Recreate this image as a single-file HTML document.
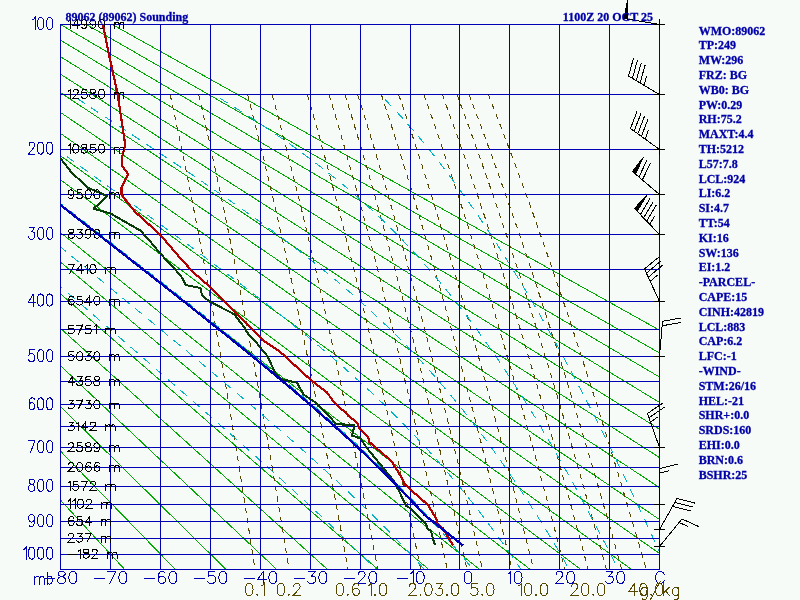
<!DOCTYPE html>
<html><head><meta charset="utf-8"><title>89062 Sounding</title><style>html,body{margin:0;padding:0;background:#F6FBF7;}svg{display:block;will-change:transform;}text{font-family:"Liberation Serif",serif;}</style></head><body>
<svg width="800" height="600" viewBox="0 0 800 600">
<defs><clipPath id="c"><rect x="60" y="24" width="600" height="546"/></clipPath></defs>
<g clip-path="url(#c)" stroke="#00AA00" stroke-width="1" fill="none" shape-rendering="crispEdges">
<path d="M-379.5 24.5L124.7 569.5"/>
<path d="M-353.6 24.5L175.4 569.5"/>
<path d="M-327.7 24.5L226.1 569.5"/>
<path d="M-301.8 24.5L276.8 569.5"/>
<path d="M-276 24.5L327.5 569.5"/>
<path d="M-250.1 24.5L378.2 569.5"/>
<path d="M-224.2 24.5L428.9 569.5"/>
<path d="M-198.3 24.5L479.6 569.5"/>
<path d="M-172.4 24.5L530.2 569.5"/>
<path d="M-146.6 24.5L580.9 569.5"/>
<path d="M-120.7 24.5L631.6 569.5"/>
<path d="M-94.8 24.5L682.3 569.5"/>
<path d="M-68.9 24.5L733 569.5"/>
<path d="M-43 24.5L783.7 569.5"/>
<path d="M-17.2 24.5L834.4 569.5"/>
<path d="M8.7 24.5L885.1 569.5"/>
<path d="M34.6 24.5L935.8 569.5"/>
<path d="M60.5 24.5L986.5 569.5"/>
<path d="M86.4 24.5L1037.2 569.5"/>
<path d="M112.2 24.5L1087.9 569.5"/>
</g>
<g clip-path="url(#c)" stroke="#564800" stroke-width="1" fill="none" stroke-dasharray="5.5 5" shape-rendering="crispEdges">
<path d="M170.1 94.4L172.3 104.4L174.4 114.4L176.5 124.4L178.7 134.4L180.7 144.4L182.8 154.4L184.9 164.4L186.9 174.4L188.9 184.4L190.9 194.4L192.8 204.4L194.8 214.4L196.7 224.4L198.6 234.4L200.5 244.4L202.4 254.4L204.3 264.4L206.1 274.4L208 284.4L209.8 294.4L211.6 304.4L213.4 314.4L215.2 324.4L216.9 334.4L218.7 344.4L220.4 354.4L222.1 364.4L223.8 374.4L225.5 384.4L227.2 394.4L228.9 404.4L230.6 414.4L232.2 424.4L233.8 434.4L235.5 444.4L237.1 454.4L238.7 464.4L240.3 474.4L241.9 484.4L243.4 494.4L245 504.4L246.5 514.4L248.1 524.4L249.6 534.4L251.1 544.4L252.7 554.4L254.2 564.4L254.9 569.5"/>
<path d="M198.6 94.4L200.9 104.4L203.2 114.4L205.5 124.4L207.7 134.4L209.9 144.4L212.1 154.4L214.3 164.4L216.5 174.4L218.6 184.4L220.7 194.4L222.8 204.4L224.9 214.4L227 224.4L229 234.4L231 244.4L233 254.4L235 264.4L237 274.4L238.9 284.4L240.9 294.4L242.8 304.4L244.7 314.4L246.6 324.4L248.5 334.4L250.3 344.4L252.2 354.4L254 364.4L255.8 374.4L257.7 384.4L259.4 394.4L261.2 404.4L263 414.4L264.8 424.4L266.5 434.4L268.2 444.4L270 454.4L271.7 464.4L273.4 474.4L275.1 484.4L276.7 494.4L278.4 504.4L280.1 514.4L281.7 524.4L283.4 534.4L285 544.4L286.6 554.4L288.2 564.4L289 569.5"/>
<path d="M247.6 94.4L250.2 104.4L252.7 114.4L255.2 124.4L257.7 134.4L260.1 144.4L262.6 154.4L265 164.4L267.4 174.4L269.7 184.4L272.1 194.4L274.4 204.4L276.7 214.4L279 224.4L281.2 234.4L283.5 244.4L285.7 254.4L287.9 264.4L290.1 274.4L292.3 284.4L294.4 294.4L296.5 304.4L298.7 314.4L300.8 324.4L302.9 334.4L304.9 344.4L307 354.4L309 364.4L311.1 374.4L313.1 384.4L315.1 394.4L317 404.4L319 414.4L321 424.4L322.9 434.4L324.8 444.4L326.8 454.4L328.7 464.4L330.6 474.4L332.4 484.4L334.3 494.4L336.2 504.4L338 514.4L339.9 524.4L341.7 534.4L343.5 544.4L345.3 554.4L347.1 564.4L348 569.5"/>
<path d="M272.1 94.4L274.8 104.4L277.5 114.4L280.1 124.4L282.7 134.4L285.3 144.4L287.8 154.4L290.4 164.4L292.9 174.4L295.4 184.4L297.8 194.4L300.3 204.4L302.7 214.4L305.1 224.4L307.4 234.4L309.8 244.4L312.1 254.4L314.5 264.4L316.8 274.4L319 284.4L321.3 294.4L323.5 304.4L325.8 314.4L328 324.4L330.2 334.4L332.4 344.4L334.5 354.4L336.7 364.4L338.8 374.4L340.9 384.4L343 394.4L345.1 404.4L347.2 414.4L349.3 424.4L351.3 434.4L353.3 444.4L355.4 454.4L357.4 464.4L359.4 474.4L361.3 484.4L363.3 494.4L365.3 504.4L367.2 514.4L369.2 524.4L371.1 534.4L373 544.4L374.9 554.4L376.8 564.4L377.7 569.5"/>
<path d="M307.3 94.4L310.2 104.4L313.1 114.4L315.9 124.4L318.7 134.4L321.4 144.4L324.2 154.4L326.9 164.4L329.5 174.4L332.2 184.4L334.8 194.4L337.5 204.4L340 214.4L342.6 224.4L345.2 234.4L347.7 244.4L350.2 254.4L352.7 264.4L355.1 274.4L357.6 284.4L360 294.4L362.4 304.4L364.8 314.4L367.2 324.4L369.6 334.4L371.9 344.4L374.2 354.4L376.5 364.4L378.8 374.4L381.1 384.4L383.4 394.4L385.6 404.4L387.8 414.4L390 424.4L392.2 434.4L394.4 444.4L396.6 454.4L398.8 464.4L400.9 474.4L403 484.4L405.2 494.4L407.3 504.4L409.4 514.4L411.5 524.4L413.5 534.4L415.6 544.4L417.6 554.4L419.7 564.4L420.7 569.5"/>
<path d="M329 94.4L332 104.4L335 114.4L337.9 124.4L340.8 134.4L343.7 144.4L346.5 154.4L349.4 164.4L352.2 174.4L354.9 184.4L357.7 194.4L360.4 204.4L363.1 214.4L365.8 224.4L368.4 234.4L371.1 244.4L373.7 254.4L376.3 264.4L378.9 274.4L381.4 284.4L383.9 294.4L386.5 304.4L389 314.4L391.4 324.4L393.9 334.4L396.3 344.4L398.8 354.4L401.2 364.4L403.6 374.4L405.9 384.4L408.3 394.4L410.6 404.4L413 414.4L415.3 424.4L417.6 434.4L419.9 444.4L422.1 454.4L424.4 464.4L426.6 474.4L428.9 484.4L431.1 494.4L433.3 504.4L435.5 514.4L437.7 524.4L439.8 534.4L442 544.4L444.1 554.4L446.2 564.4L447.3 569.5"/>
<path d="M345 94.4L348 104.4L351.1 114.4L354.1 124.4L357.1 134.4L360.1 144.4L363 154.4L365.9 164.4L368.8 174.4L371.6 184.4L374.5 194.4L377.3 204.4L380 214.4L382.8 224.4L385.5 234.4L388.3 244.4L391 254.4L393.6 264.4L396.3 274.4L398.9 284.4L401.5 294.4L404.1 304.4L406.7 314.4L409.2 324.4L411.8 334.4L414.3 344.4L416.8 354.4L419.3 364.4L421.8 374.4L424.2 384.4L426.6 394.4L429.1 404.4L431.5 414.4L433.9 424.4L436.2 434.4L438.6 444.4L440.9 454.4L443.3 464.4L445.6 474.4L447.9 484.4L450.2 494.4L452.4 504.4L454.7 514.4L456.9 524.4L459.2 534.4L461.4 544.4L463.6 554.4L465.8 564.4L466.9 569.5"/>
<path d="M357.6 94.4L360.8 104.4L363.9 114.4L367 124.4L370 134.4L373.1 144.4L376.1 154.4L379 164.4L382 174.4L384.9 184.4L387.8 194.4L390.7 204.4L393.5 214.4L396.3 224.4L399.1 234.4L401.9 244.4L404.7 254.4L407.4 264.4L410.1 274.4L412.8 284.4L415.5 294.4L418.2 304.4L420.8 314.4L423.4 324.4L426 334.4L428.6 344.4L431.2 354.4L433.7 364.4L436.2 374.4L438.8 384.4L441.2 394.4L443.7 404.4L446.2 414.4L448.6 424.4L451.1 434.4L453.5 444.4L455.9 454.4L458.3 464.4L460.6 474.4L463 484.4L465.4 494.4L467.7 504.4L470 514.4L472.3 524.4L474.6 534.4L476.9 544.4L479.2 554.4L481.4 564.4L482.6 569.5"/>
<path d="M381.3 94.4L384.6 104.4L387.8 114.4L391 124.4L394.2 134.4L397.4 144.4L400.5 154.4L403.6 164.4L406.7 174.4L409.8 184.4L412.8 194.4L415.8 204.4L418.8 214.4L421.7 224.4L424.6 234.4L427.5 244.4L430.4 254.4L433.3 264.4L436.1 274.4L438.9 284.4L441.7 294.4L444.5 304.4L447.3 314.4L450 324.4L452.7 334.4L455.4 344.4L458.1 354.4L460.8 364.4L463.4 374.4L466 384.4L468.7 394.4L471.2 404.4L473.8 414.4L476.4 424.4L478.9 434.4L481.5 444.4L484 454.4L486.5 464.4L489 474.4L491.4 484.4L493.9 494.4L496.3 504.4L498.8 514.4L501.2 524.4L503.6 534.4L506 544.4L508.3 554.4L510.7 564.4L511.9 569.5"/>
<path d="M398.6 94.4L402 104.4L405.4 114.4L408.7 124.4L412 134.4L415.2 144.4L418.5 154.4L421.7 164.4L424.8 174.4L428 184.4L431.1 194.4L434.2 204.4L437.3 214.4L440.3 224.4L443.3 234.4L446.3 244.4L449.3 254.4L452.3 264.4L455.2 274.4L458.1 284.4L461 294.4L463.9 304.4L466.7 314.4L469.5 324.4L472.3 334.4L475.1 344.4L477.9 354.4L480.6 364.4L483.4 374.4L486.1 384.4L488.8 394.4L491.5 404.4L494.1 414.4L496.8 424.4L499.4 434.4L502 444.4L504.6 454.4L507.2 464.4L509.8 474.4L512.3 484.4L514.9 494.4L517.4 504.4L519.9 514.4L522.4 524.4L524.9 534.4L527.4 544.4L529.8 554.4L532.3 564.4L533.5 569.5"/>
<path d="M423.9 94.4L427.4 104.4L430.9 114.4L434.4 124.4L437.8 134.4L441.2 144.4L444.6 154.4L447.9 164.4L451.2 174.4L454.5 184.4L457.8 194.4L461 204.4L464.2 214.4L467.4 224.4L470.6 234.4L473.7 244.4L476.8 254.4L479.9 264.4L483 274.4L486 284.4L489 294.4L492 304.4L495 314.4L498 324.4L500.9 334.4L503.8 344.4L506.7 354.4L509.6 364.4L512.5 374.4L515.3 384.4L518.1 394.4L521 404.4L523.7 414.4L526.5 424.4L529.3 434.4L532 444.4L534.7 454.4L537.5 464.4L540.1 474.4L542.8 484.4L545.5 494.4L548.1 504.4L550.8 514.4L553.4 524.4L556 534.4L558.6 544.4L561.2 554.4L563.7 564.4L565 569.5"/>
<path d="M442.3 94.4L445.9 104.4L449.5 114.4L453.1 124.4L456.7 134.4L460.2 144.4L463.7 154.4L467.1 164.4L470.5 174.4L473.9 184.4L477.3 194.4L480.6 204.4L484 214.4L487.2 224.4L490.5 234.4L493.7 244.4L497 254.4L500.1 264.4L503.3 274.4L506.5 284.4L509.6 294.4L512.7 304.4L515.8 314.4L518.8 324.4L521.8 334.4L524.9 344.4L527.9 354.4L530.8 364.4L533.8 374.4L536.7 384.4L539.7 394.4L542.6 404.4L545.4 414.4L548.3 424.4L551.2 434.4L554 444.4L556.8 454.4L559.6 464.4L562.4 474.4L565.2 484.4L567.9 494.4L570.7 504.4L573.4 514.4L576.1 524.4L578.8 534.4L581.5 544.4L584.2 554.4L586.8 564.4L588.2 569.5"/>
<path d="M456.9 94.4L460.6 104.4L464.3 114.4L468 124.4L471.6 134.4L475.2 144.4L478.8 154.4L482.3 164.4L485.8 174.4L489.3 184.4L492.7 194.4L496.2 204.4L499.6 214.4L502.9 224.4L506.3 234.4L509.6 244.4L512.9 254.4L516.2 264.4L519.4 274.4L522.6 284.4L525.8 294.4L529 304.4L532.2 314.4L535.3 324.4L538.4 334.4L541.5 344.4L544.6 354.4L547.7 364.4L550.7 374.4L553.7 384.4L556.7 394.4L559.7 404.4L562.7 414.4L565.6 424.4L568.5 434.4L571.4 444.4L574.3 454.4L577.2 464.4L580.1 474.4L582.9 484.4L585.7 494.4L588.6 504.4L591.4 514.4L594.1 524.4L596.9 534.4L599.7 544.4L602.4 554.4L605.1 564.4L606.5 569.5"/>
<path d="M468.9 94.4L472.7 104.4L476.5 114.4L480.3 124.4L484 134.4L487.6 144.4L491.3 154.4L494.9 164.4L498.5 174.4L502 184.4L505.5 194.4L509 204.4L512.5 214.4L516 224.4L519.4 234.4L522.8 244.4L526.1 254.4L529.5 264.4L532.8 274.4L536.1 284.4L539.3 294.4L542.6 304.4L545.8 314.4L549 324.4L552.2 334.4L555.4 344.4L558.5 354.4L561.6 364.4L564.7 374.4L567.8 384.4L570.9 394.4L573.9 404.4L576.9 414.4L580 424.4L582.9 434.4L585.9 444.4L588.9 454.4L591.8 464.4L594.7 474.4L597.7 484.4L600.5 494.4L603.4 504.4L606.3 514.4L609.1 524.4L612 534.4L614.8 544.4L617.6 554.4L620.4 564.4L621.8 569.5"/>
<path d="M488.3 94.4L492.2 104.4L496.1 114.4L500 124.4L503.8 134.4L507.6 144.4L511.3 154.4L515.1 164.4L518.8 174.4L522.4 184.4L526.1 194.4L529.7 204.4L533.3 214.4L536.8 224.4L540.3 234.4L543.8 244.4L547.3 254.4L550.8 264.4L554.2 274.4L557.6 284.4L561 294.4L564.3 304.4L567.7 314.4L571 324.4L574.3 334.4L577.5 344.4L580.8 354.4L584 364.4L587.2 374.4L590.4 384.4L593.6 394.4L596.7 404.4L599.9 414.4L603 424.4L606.1 434.4L609.2 444.4L612.2 454.4L615.3 464.4L618.3 474.4L621.3 484.4L624.3 494.4L627.3 504.4L630.2 514.4L633.2 524.4L636.1 534.4L639 544.4L641.9 554.4L644.8 564.4L646.3 569.5"/>
</g>
<g clip-path="url(#c)" stroke="#00B4C4" stroke-width="1" fill="none" stroke-dasharray="9 7.5" stroke-dashoffset="9" shape-rendering="crispEdges">
<path d="M-162.6 94.4L-148.7 106.3L-135.5 117.6L-122.9 128.5L-110.7 139L-99 149.1L-87.7 158.9L-76.8 168.3L-66.2 177.4L-55.9 186.2L-46 194.8L-36.3 203.1L-26.9 211.2L-17.7 219.1L-8.8 226.8L-0.1 234.3L8.4 241.6L16.7 248.8L24.9 255.8L32.8 262.7L40.6 269.4L48.2 276L55.7 282.4L63.1 288.7L70.3 295L77.3 301L84.3 307L91.1 312.9L97.8 318.7L104.4 324.4L110.9 330L117.3 335.5L123.5 340.9L129.7 346.3L135.8 351.5L141.8 356.7L147.7 361.8L153.5 366.9L159.3 371.9L164.9 376.8L170.5 381.6L176 386.4L181.4 391.1L186.8 395.8L192.1 400.4L197.3 404.9L202.4 409.4L207.5 413.9L212.5 418.3L217.5 422.6L222.3 426.9L227.2 431.2L231.9 435.4L236.6 439.5L241.3 443.6L245.9 447.7L250.4 451.7L254.9 455.7L259.3 459.7L263.7 463.6L268 467.5L272.3 471.3L276.5 475.1L280.6 478.9L284.7 482.6L288.8 486.3L292.8 490L296.8 493.6L300.7 497.2L304.6 500.8L308.4 504.3L312.2 507.8L315.9 511.3L319.6 514.8L323.2 518.2L326.8 521.6L330.4 525L333.9 528.3L337.3 531.6L340.8 534.9L344.2 538.2L347.5 541.4L350.8 544.7L354.1 547.9L357.3 551L360.5 554.2L363.7 557.3L366.8 560.4L369.8 563.5L372.9 566.6L375.9 569.6"/>
<path d="M-125.5 94.4L-111 106.3L-97.2 117.6L-83.9 128.5L-71.1 139L-58.8 149.1L-46.9 158.9L-35.5 168.3L-24.3 177.4L-13.6 186.2L-3.1 194.8L7 203.1L16.9 211.2L26.5 219.1L35.9 226.8L45 234.3L54 241.6L62.7 248.8L71.2 255.8L79.6 262.7L87.7 269.4L95.7 276L103.6 282.4L111.3 288.7L118.8 295L126.2 301L133.5 307L140.6 312.9L147.6 318.7L154.5 324.4L161.3 330L167.9 335.5L174.5 340.9L180.9 346.3L187.3 351.5L193.5 356.7L199.6 361.8L205.7 366.9L211.6 371.9L217.5 376.8L223.2 381.6L228.9 386.4L234.5 391.1L240 395.8L245.4 400.4L250.8 404.9L256 409.4L261.2 413.9L266.3 418.3L271.4 422.6L276.3 426.9L281.2 431.2L286 435.4L290.7 439.5L295.4 443.6L300 447.7L304.5 451.7L309 455.7L313.4 459.7L317.7 463.6L322 467.5L326.2 471.3L330.4 475.1L334.4 478.9L338.5 482.6L342.4 486.3L346.3 490L350.2 493.6L353.9 497.2L357.7 500.8L361.3 504.3L365 507.8L368.5 511.3L372.1 514.8L375.5 518.2L378.9 521.6L382.3 525L385.6 528.3L388.9 531.6L392.1 534.9L395.3 538.2L398.4 541.4L401.5 544.7L404.5 547.9L407.5 551L410.5 554.2L413.4 557.3L416.3 560.4L419.1 563.5L421.9 566.6L424.7 569.6"/>
<path d="M-80.2 94.4L-64.8 106.3L-50.2 117.6L-36.1 128.5L-22.6 139L-9.6 149.1L3 158.9L15.1 168.3L26.9 177.4L38.3 186.2L49.3 194.8L60 203.1L70.5 211.2L80.6 219.1L90.6 226.8L100.2 234.3L109.6 241.6L118.8 248.8L127.8 255.8L136.6 262.7L145.2 269.4L153.7 276L161.9 282.4L170 288.7L177.9 295L185.6 301L193.2 307L200.7 312.9L208 318.7L215.1 324.4L222.1 330L229 335.5L235.8 340.9L242.4 346.3L248.9 351.5L255.3 356.7L261.5 361.8L267.7 366.9L273.7 371.9L279.6 376.8L285.4 381.6L291.1 386.4L296.7 391.1L302.2 395.8L307.5 400.4L312.8 404.9L318 409.4L323 413.9L328 418.3L332.9 422.6L337.7 426.9L342.4 431.2L347 435.4L351.5 439.5L356 443.6L360.3 447.7L364.6 451.7L368.8 455.7L372.9 459.7L376.9 463.6L380.9 467.5L384.8 471.3L388.6 475.1L392.3 478.9L396 482.6L399.6 486.3L403.2 490L406.7 493.6L410.1 497.2L413.5 500.8L416.8 504.3L420.1 507.8L423.3 511.3L426.4 514.8L429.5 518.2L432.6 521.6L435.6 525L438.5 528.3L441.4 531.6L444.3 534.9L447.1 538.2L449.8 541.4L452.6 544.7L455.2 547.9L457.9 551L460.5 554.2L463.1 557.3L465.6 560.4L468.1 563.5L470.6 566.6L473 569.6"/>
<path d="M-19.2 94.4L-2.8 106.3L13 117.6L28.1 128.5L42.6 139L56.5 149.1L70 158.9L83 168.3L95.6 177.4L107.8 186.2L119.6 194.8L131.1 203.1L142.2 211.2L153.1 219.1L163.6 226.8L173.9 234.3L183.8 241.6L193.5 248.8L203 255.8L212.2 262.7L221.2 269.4L230 276L238.5 282.4L246.8 288.7L254.9 295L262.8 301L270.5 307L278 312.9L285.3 318.7L292.4 324.4L299.3 330L306.1 335.5L312.7 340.9L319.1 346.3L325.3 351.5L331.4 356.7L337.3 361.8L343.1 366.9L348.7 371.9L354.2 376.8L359.5 381.6L364.7 386.4L369.8 391.1L374.8 395.8L379.6 400.4L384.3 404.9L388.9 409.4L393.4 413.9L397.7 418.3L402 422.6L406.2 426.9L410.3 431.2L414.3 435.4L418.2 439.5L422 443.6L425.7 447.7L429.4 451.7L433 455.7L436.5 459.7L439.9 463.6L443.3 467.5L446.6 471.3L449.8 475.1L453 478.9L456.1 482.6L459.1 486.3L462.1 490L465.1 493.6L468 497.2L470.8 500.8L473.6 504.3L476.3 507.8L479 511.3L481.7 514.8L484.3 518.2L486.9 521.6L489.4 525L491.9 528.3L494.3 531.6L496.8 534.9L499.1 538.2L501.5 541.4L503.8 544.7L506 547.9L508.3 551L510.5 554.2L512.7 557.3L514.8 560.4L517 563.5L519 566.6L521.1 569.6"/>
<path d="M70.9 94.4L88.9 106.3L106.2 117.6L122.8 128.5L138.6 139L153.8 149.1L168.4 158.9L182.4 168.3L195.9 177.4L208.9 186.2L221.4 194.8L233.4 203.1L245 211.2L256.1 219.1L266.8 226.8L277 234.3L286.9 241.6L296.3 248.8L305.4 255.8L314.2 262.7L322.6 269.4L330.6 276L338.4 282.4L345.8 288.7L353 295L359.9 301L366.5 307L372.9 312.9L379.1 318.7L385.1 324.4L390.8 330L396.4 335.5L401.7 340.9L407 346.3L412 351.5L416.9 356.7L421.6 361.8L426.2 366.9L430.7 371.9L435 376.8L439.2 381.6L443.3 386.4L447.3 391.1L451.2 395.8L455 400.4L458.7 404.9L462.3 409.4L465.8 413.9L469.3 418.3L472.6 422.6L475.9 426.9L479.1 431.2L482.3 435.4L485.4 439.5L488.4 443.6L491.4 447.7L494.3 451.7L497.1 455.7L499.9 459.7L502.6 463.6L505.3 467.5L508 471.3L510.6 475.1L513.1 478.9L515.6 482.6L518.1 486.3L520.5 490L522.9 493.6L525.3 497.2L527.6 500.8L529.9 504.3L532.1 507.8L534.3 511.3L536.5 514.8L538.7 518.2L540.8 521.6L542.9 525L544.9 528.3L547 531.6L549 534.9L551 538.2L552.9 541.4L554.9 544.7L556.8 547.9L558.6 551L560.5 554.2L562.3 557.3L564.2 560.4L565.9 563.5L567.7 566.6L569.5 569.6"/>
<path d="M213.7 94.4L232.9 106.3L250.8 117.6L267.3 128.5L282.7 139L297 149.1L310.2 158.9L322.6 168.3L334.1 177.4L344.8 186.2L354.8 194.8L364.3 203.1L373.1 211.2L381.5 219.1L389.4 226.8L396.8 234.3L403.9 241.6L410.7 248.8L417.1 255.8L423.2 262.7L429.1 269.4L434.8 276L440.2 282.4L445.4 288.7L450.4 295L455.2 301L459.9 307L464.4 312.9L468.8 318.7L473 324.4L477.1 330L481.1 335.5L485 340.9L488.7 346.3L492.4 351.5L496 356.7L499.5 361.8L502.9 366.9L506.2 371.9L509.4 376.8L512.6 381.6L515.7 386.4L518.7 391.1L521.6 395.8L524.5 400.4L527.4 404.9L530.2 409.4L532.9 413.9L535.6 418.3L538.2 422.6L540.8 426.9L543.3 431.2L545.8 435.4L548.2 439.5L550.7 443.6L553 447.7L555.3 451.7L557.6 455.7L559.9 459.7L562.1 463.6L564.3 467.5L566.5 471.3L568.6 475.1L570.7 478.9L572.7 482.6L574.8 486.3L576.8 490L578.8 493.6L580.7 497.2L582.6 500.8L584.5 504.3L586.4 507.8L588.3 511.3L590.1 514.8L591.9 518.2L593.7 521.6L595.5 525L597.2 528.3L598.9 531.6L600.6 534.9L602.3 538.2L604 541.4L605.7 544.7L607.3 547.9L608.9 551L610.5 554.2L612.1 557.3L613.6 560.4L615.2 563.5L616.7 566.6L618.2 569.6"/>
<path d="M380 94.4L391.5 106.3L402 117.6L411.6 128.5L420.5 139L428.8 149.1L436.6 158.9L443.9 168.3L450.8 177.4L457.3 186.2L463.5 194.8L469.4 203.1L475 211.2L480.4 219.1L485.6 226.8L490.5 234.3L495.3 241.6L499.9 248.8L504.4 255.8L508.6 262.7L512.8 269.4L516.8 276L520.7 282.4L524.5 288.7L528.2 295L531.8 301L535.3 307L538.7 312.9L542 318.7L545.3 324.4L548.4 330L551.5 335.5L554.5 340.9L557.5 346.3L560.4 351.5L563.2 356.7L566 361.8L568.7 366.9L571.3 371.9L574 376.8L576.5 381.6L579 386.4L581.5 391.1L583.9 395.8L586.3 400.4L588.7 404.9L591 409.4L593.3 413.9L595.5 418.3L597.7 422.6L599.9 426.9L602 431.2L604.1 435.4L606.2 439.5L608.2 443.6L610.2 447.7L612.2 451.7L614.2 455.7L616.1 459.7L618 463.6L619.9 467.5L621.7 471.3L623.6 475.1L625.4 478.9L627.2 482.6L629 486.3L630.7 490L632.4 493.6L634.1 497.2L635.8 500.8L637.5 504.3L639.1 507.8L640.8 511.3L642.4 514.8L644 518.2L645.6 521.6L647.1 525L648.7 528.3L650.2 531.6L651.7 534.9L653.2 538.2L654.7 541.4L656.2 544.7L657.6 547.9L659.1 551L660.5 554.2L661.9 557.3L663.3 560.4L664.7 563.5L666.1 566.6L667.5 569.6"/>
</g>
<g stroke="#0000B4" stroke-width="1" fill="none" shape-rendering="crispEdges">
<path d="M60.5 24V570M110.5 24V570M160.5 24V570M210.5 24V570M260.5 24V570M310.5 24V570M360.5 24V570M410.5 24V570M459.5 24V570M509.5 24V570M559.5 24V570M609.5 24V570M659.5 24V570M60 24.5H660M60 94.5H660M60 149.5H660M60 194.5H660M60 234.5H660M60 269.5H660M60 301.5H660M60 329.5H660M60 356.5H660M60 381.5H660M60 404.5H660M60 426.5H660M60 447.5H660M60 467.5H660M60 486.5H660M60 504.5H660M60 521.5H660M60 538.5H660M60 554.5H660M60 569.5H660"/>
</g>
<g shape-rendering="crispEdges">
<path d="M60.5 158.5L71.2 172L87.7 187.7L107.2 196L93.7 208.7L110.5 213.5L140.5 230.7L149.5 240.5L160 253.2L175.7 270L182.5 278.2L185.5 285L200.5 288L202 295.5L209.5 301.5L234.2 314.2L244 327L248.5 334.5L254.2 340L267.7 356.5L275.2 373L280.5 379L297 382.7L303.7 394.7L315 402.2L323 410L336.5 424.2L354.5 425L352.2 435.5L360.5 438.5L366.5 447.5L380 464L393.5 480.5L400 493L406 506L410 508L426 524L427.5 529L431 531L433 539L435 545" stroke="#0A3C0A" stroke-width="2.1" fill="none" stroke-linejoin="round" clip-path="url(#c)"/>
<path d="M103 24.5L108 50L117.7 94.5L124.5 140L125.2 145L122.2 157L122.2 166L128.2 174.2L121.5 187.7L121.5 194.5L125.5 200L135.2 212L160 234.5L178 255.5L193 272L209.5 286.5L235 312L253 330L262.5 340L280 351.7L310.5 379.7L327 392.5L334.5 403L342.5 410L357.5 423.5L359 428L368 437L369.5 442.2L392 461.7L395 467L401.7 477.5L404.7 484.2L411 490L428 505L437 520L437.5 524L443 528.5L453 545.5" stroke="#B00000" stroke-width="2.2" fill="none" stroke-linejoin="round" clip-path="url(#c)"/>
<path d="M463 545.5L424.8 515.1L424.5 514.8L421.3 511.3L418.1 507.8L414.9 504.3L411.5 500.8L408.1 497.2L404.7 493.6L401.2 490L397.6 486.3L394 482.6L390.3 478.9L386.5 475.1L382.7 471.3L378.8 467.5L374.8 463.6L370.7 459.7L366.6 455.7L362.4 451.7L358.1 447.7L353.8 443.6L349.3 439.5L344.8 435.4L340.1 431.2L335.4 426.9L330.6 422.6L325.7 418.3L320.8 413.9L315.7 409.4L310.5 404.9L305.2 400.4L299.8 395.8L294.4 391.1L288.8 386.4L283.1 381.6L277.3 376.8L271.4 371.9L265.3 366.9L259.2 361.8L252.9 356.7L246.6 351.5L240.1 346.3L233.4 340.9L226.7 335.5L219.8 330L212.8 324.4L205.6 318.7L198.3 312.9L190.9 307L183.3 301L175.6 295L167.7 288.7L159.6 282.4L151.4 276L143 269.4L134.4 262.7L125.6 255.8L116.7 248.8L107.5 241.6L98.1 234.3L88.4 226.8L78.5 219.1L68.4 211.2L58 203.1L47.3 194.8L36.2 186.2L24.9 177.4L13.1 168.3L1 158.9L-11.5 149.1L-24.5 139L-38 128.5L-52 117.6L-66.6 106.3L-81.9 94.4L-98 81.9L-114.9 68.8L-132.7 54.9L-151.7 40.2L-171.9 24.5" stroke="#0000B4" stroke-width="2.4" fill="none" stroke-linejoin="round" clip-path="url(#c)"/>
</g>
<g shape-rendering="crispEdges">
<path d="M32.8 19.8L33.7 19.2L35 17.5L35 29.5M40.2 17.5L38.9 18.1L38 19.8L37.6 22.6L37.6 24.4L38 27.2L38.9 28.9L40.2 29.5L41.2 29.5L42.5 28.9L43.4 27.2L43.9 24.4L43.9 22.6L43.4 19.8L42.5 18.1L41.2 17.5L40.2 17.5M49.2 17.5L47.9 18.1L47 19.8L46.6 22.6L46.6 24.4L47 27.2L47.9 28.9L49.2 29.5L50.2 29.5L51.5 28.9L52.4 27.2L52.9 24.4L52.9 22.6L52.4 19.8L51.5 18.1L50.2 17.5L49.2 17.5" stroke="#0000B4" stroke-width="1.0" fill="none" stroke-linecap="square"/>
<path d="M29 145L29 144.4L29.5 143.3L29.9 142.7L30.8 142.1L32.6 142.1L33.5 142.7L34 143.3L34.4 144.4L34.4 145.5L34 146.7L33.1 148.4L28.6 154.1L34.9 154.1M40.2 142.1L38.9 142.7L38 144.4L37.6 147.3L37.6 149L38 151.8L38.9 153.5L40.2 154.1L41.2 154.1L42.5 153.5L43.4 151.8L43.9 149L43.9 147.3L43.4 144.4L42.5 142.7L41.2 142.1L40.2 142.1M49.2 142.1L47.9 142.7L47 144.4L46.6 147.3L46.6 149L47 151.8L47.9 153.5L49.2 154.1L50.2 154.1L51.5 153.5L52.4 151.8L52.9 149L52.9 147.3L52.4 144.4L51.5 142.7L50.2 142.1L49.2 142.1" stroke="#0000B4" stroke-width="1.0" fill="none" stroke-linecap="square"/>
<path d="M29.5 227.3L34.4 227.3L31.7 231.9L33.1 231.9L34 232.5L34.4 233L34.9 234.7L34.9 235.9L34.4 237.6L33.5 238.7L32.2 239.3L30.8 239.3L29.5 238.7L29 238.2L28.6 237M40.2 227.3L38.9 227.9L38 229.6L37.6 232.5L37.6 234.2L38 237L38.9 238.7L40.2 239.3L41.2 239.3L42.5 238.7L43.4 237L43.9 234.2L43.9 232.5L43.4 229.6L42.5 227.9L41.2 227.3L40.2 227.3M49.2 227.3L47.9 227.9L47 229.6L46.6 232.5L46.6 234.2L47 237L47.9 238.7L49.2 239.3L50.2 239.3L51.5 238.7L52.4 237L52.9 234.2L52.9 232.5L52.4 229.6L51.5 227.9L50.2 227.3L49.2 227.3" stroke="#0000B4" stroke-width="1.0" fill="none" stroke-linecap="square"/>
<path d="M33.1 294.1L28.6 302L35.3 302M33.1 294.1L33.1 306M40.2 294.1L38.9 294.6L38 296.3L37.6 299.2L37.6 300.9L38 303.8L38.9 305.5L40.2 306L41.2 306L42.5 305.5L43.4 303.8L43.9 300.9L43.9 299.2L43.4 296.3L42.5 294.6L41.2 294.1L40.2 294.1M49.2 294.1L47.9 294.6L47 296.3L46.6 299.2L46.6 300.9L47 303.8L47.9 305.5L49.2 306L50.2 306L51.5 305.5L52.4 303.8L52.9 300.9L52.9 299.2L52.4 296.3L51.5 294.6L50.2 294.1L49.2 294.1" stroke="#0000B4" stroke-width="1.0" fill="none" stroke-linecap="square"/>
<path d="M34 349.7L29.5 349.7L29 354.9L29.5 354.3L30.8 353.7L32.2 353.7L33.5 354.3L34.4 355.4L34.9 357.2L34.9 358.3L34.4 360L33.5 361.1L32.2 361.7L30.8 361.7L29.5 361.1L29 360.6L28.6 359.4M40.2 349.7L38.9 350.3L38 352L37.6 354.9L37.6 356.6L38 359.4L38.9 361.1L40.2 361.7L41.2 361.7L42.5 361.1L43.4 359.4L43.9 356.6L43.9 354.9L43.4 352L42.5 350.3L41.2 349.7L40.2 349.7M49.2 349.7L47.9 350.3L47 352L46.6 354.9L46.6 356.6L47 359.4L47.9 361.1L49.2 361.7L50.2 361.7L51.5 361.1L52.4 359.4L52.9 356.6L52.9 354.9L52.4 352L51.5 350.3L50.2 349.7L49.2 349.7" stroke="#0000B4" stroke-width="1.0" fill="none" stroke-linecap="square"/>
<path d="M34.4 399.7L34 398.5L32.6 397.9L31.7 397.9L30.4 398.5L29.5 400.2L29 403.1L29 405.9L29.5 408.2L30.4 409.3L31.7 409.9L32.2 409.9L33.5 409.3L34.4 408.2L34.9 406.5L34.9 405.9L34.4 404.2L33.5 403.1L32.2 402.5L31.7 402.5L30.4 403.1L29.5 404.2L29 405.9M40.2 397.9L38.9 398.5L38 400.2L37.6 403.1L37.6 404.8L38 407.6L38.9 409.3L40.2 409.9L41.2 409.9L42.5 409.3L43.4 407.6L43.9 404.8L43.9 403.1L43.4 400.2L42.5 398.5L41.2 397.9L40.2 397.9M49.2 397.9L47.9 398.5L47 400.2L46.6 403.1L46.6 404.8L47 407.6L47.9 409.3L49.2 409.9L50.2 409.9L51.5 409.3L52.4 407.6L52.9 404.8L52.9 403.1L52.4 400.2L51.5 398.5L50.2 397.9L49.2 397.9" stroke="#0000B4" stroke-width="1.0" fill="none" stroke-linecap="square"/>
<path d="M34.9 440.7L30.4 452.7M28.6 440.7L34.9 440.7M40.2 440.7L38.9 441.3L38 443L37.6 445.8L37.6 447.6L38 450.4L38.9 452.1L40.2 452.7L41.2 452.7L42.5 452.1L43.4 450.4L43.9 447.6L43.9 445.8L43.4 443L42.5 441.3L41.2 440.7L40.2 440.7M49.2 440.7L47.9 441.3L47 443L46.6 445.8L46.6 447.6L47 450.4L47.9 452.1L49.2 452.7L50.2 452.7L51.5 452.1L52.4 450.4L52.9 447.6L52.9 445.8L52.4 443L51.5 441.3L50.2 440.7L49.2 440.7" stroke="#0000B4" stroke-width="1.0" fill="none" stroke-linecap="square"/>
<path d="M30.8 479.3L29.5 479.9L29 481L29 482.2L29.5 483.3L30.4 483.9L32.2 484.4L33.5 485L34.4 486.2L34.9 487.3L34.9 489L34.4 490.1L34 490.7L32.6 491.3L30.8 491.3L29.5 490.7L29 490.1L28.6 489L28.6 487.3L29 486.2L29.9 485L31.3 484.4L33.1 483.9L34 483.3L34.4 482.2L34.4 481L34 479.9L32.6 479.3L30.8 479.3M40.2 479.3L38.9 479.9L38 481.6L37.6 484.4L37.6 486.2L38 489L38.9 490.7L40.2 491.3L41.2 491.3L42.5 490.7L43.4 489L43.9 486.2L43.9 484.4L43.4 481.6L42.5 479.9L41.2 479.3L40.2 479.3M49.2 479.3L47.9 479.9L47 481.6L46.6 484.4L46.6 486.2L47 489L47.9 490.7L49.2 491.3L50.2 491.3L51.5 490.7L52.4 489L52.9 486.2L52.9 484.4L52.4 481.6L51.5 479.9L50.2 479.3L49.2 479.3" stroke="#0000B4" stroke-width="1.0" fill="none" stroke-linecap="square"/>
<path d="M34.4 518.6L34 520.3L33.1 521.4L31.7 522L31.3 522L29.9 521.4L29 520.3L28.6 518.6L28.6 518L29 516.3L29.9 515.2L31.3 514.6L31.7 514.6L33.1 515.2L34 516.3L34.4 518.6L34.4 521.4L34 524.3L33.1 526L31.7 526.6L30.8 526.6L29.5 526L29 524.9M40.2 514.6L38.9 515.2L38 516.9L37.6 519.7L37.6 521.4L38 524.3L38.9 526L40.2 526.6L41.2 526.6L42.5 526L43.4 524.3L43.9 521.4L43.9 519.7L43.4 516.9L42.5 515.2L41.2 514.6L40.2 514.6M49.2 514.6L47.9 515.2L47 516.9L46.6 519.7L46.6 521.4L47 524.3L47.9 526L49.2 526.6L50.2 526.6L51.5 526L52.4 524.3L52.9 521.4L52.9 519.7L52.4 516.9L51.5 515.2L50.2 514.6L49.2 514.6" stroke="#0000B4" stroke-width="1.0" fill="none" stroke-linecap="square"/>
<path d="M23.8 549.5L24.7 548.9L26 547.2L26 559.2M31.3 547.2L29.9 547.8L29 549.5L28.6 552.3L28.6 554L29 556.9L29.9 558.6L31.3 559.2L32.2 559.2L33.5 558.6L34.4 556.9L34.9 554L34.9 552.3L34.4 549.5L33.5 547.8L32.2 547.2L31.3 547.2M40.2 547.2L38.9 547.8L38 549.5L37.6 552.3L37.6 554L38 556.9L38.9 558.6L40.2 559.2L41.2 559.2L42.5 558.6L43.4 556.9L43.9 554L43.9 552.3L43.4 549.5L42.5 547.8L41.2 547.2L40.2 547.2M49.2 547.2L47.9 547.8L47 549.5L46.6 552.3L46.6 554L47 556.9L47.9 558.6L49.2 559.2L50.2 559.2L51.5 558.6L52.4 556.9L52.9 554L52.9 552.3L52.4 549.5L51.5 547.8L50.2 547.2L49.2 547.2" stroke="#0000B4" stroke-width="1.0" fill="none" stroke-linecap="square"/>
<path d="M68.2 21.3L69 20.9L70.3 19.6L70.3 28.4M77 19.6L72.7 25.5L79.2 25.5M77 19.6L77 28.4M86.9 22.5L86.5 23.8L85.6 24.6L84.3 25.1L83.9 25.1L82.6 24.6L81.8 23.8L81.3 22.5L81.3 22.1L81.8 20.9L82.6 20L83.9 19.6L84.3 19.6L85.6 20L86.5 20.9L86.9 22.5L86.9 24.6L86.5 26.7L85.6 28L84.3 28.4L83.5 28.4L82.2 28L81.8 27.1M95.5 22.5L95.1 23.8L94.2 24.6L92.9 25.1L92.5 25.1L91.2 24.6L90.4 23.8L89.9 22.5L89.9 22.1L90.4 20.9L91.2 20L92.5 19.6L92.9 19.6L94.2 20L95.1 20.9L95.5 22.5L95.5 24.6L95.1 26.7L94.2 28L92.9 28.4L92.1 28.4L90.8 28L90.4 27.1M101.1 19.6L99.8 20L99 21.3L98.5 23.4L98.5 24.6L99 26.7L99.8 28L101.1 28.4L102 28.4L103.3 28L104.1 26.7L104.6 24.6L104.6 23.4L104.1 21.3L103.3 20L102 19.6L101.1 19.6M114.4 22.5L114.4 28.4M114.4 24.2L115.7 22.9L116.6 22.5L117.9 22.5L118.7 22.9L119.2 24.2L119.2 28.4M119.2 24.2L120.5 22.9L121.3 22.5L122.6 22.5L123.5 22.9L123.9 24.2L123.9 28.4" stroke="#000000" stroke-width="1.0" fill="none" stroke-linecap="square"/>
<path d="M68.2 91.2L69 90.7L70.3 89.5L70.3 98.3M73.2 91.6L73.2 91.2L73.6 90.3L74 89.9L74.9 89.5L76.6 89.5L77.5 89.9L77.9 90.3L78.3 91.2L78.3 92L77.9 92.8L77 94.1L72.7 98.3L78.8 98.3M86.5 89.5L82.2 89.5L81.8 93.3L82.2 92.8L83.5 92.4L84.8 92.4L86.1 92.8L86.9 93.7L87.4 94.9L87.4 95.8L86.9 97L86.1 97.9L84.8 98.3L83.5 98.3L82.2 97.9L81.8 97.5L81.3 96.6M92.1 89.5L90.8 89.9L90.4 90.7L90.4 91.6L90.8 92.4L91.7 92.8L93.4 93.3L94.7 93.7L95.5 94.5L96 95.4L96 96.6L95.5 97.5L95.1 97.9L93.8 98.3L92.1 98.3L90.8 97.9L90.4 97.5L89.9 96.6L89.9 95.4L90.4 94.5L91.2 93.7L92.5 93.3L94.2 92.8L95.1 92.4L95.5 91.6L95.5 90.7L95.1 89.9L93.8 89.5L92.1 89.5M101.1 89.5L99.8 89.9L99 91.2L98.5 93.3L98.5 94.5L99 96.6L99.8 97.9L101.1 98.3L102 98.3L103.3 97.9L104.1 96.6L104.6 94.5L104.6 93.3L104.1 91.2L103.3 89.9L102 89.5L101.1 89.5M114.4 92.4L114.4 98.3M114.4 94.1L115.7 92.8L116.6 92.4L117.9 92.4L118.7 92.8L119.2 94.1L119.2 98.3M119.2 94.1L120.5 92.8L121.3 92.4L122.6 92.4L123.5 92.8L123.9 94.1L123.9 98.3" stroke="#000000" stroke-width="1.0" fill="none" stroke-linecap="square"/>
<path d="M68.2 145.9L69 145.5L70.3 144.2L70.3 153M75.3 144.2L74 144.6L73.2 145.9L72.7 148L72.7 149.2L73.2 151.3L74 152.6L75.3 153L76.2 153L77.5 152.6L78.3 151.3L78.8 149.2L78.8 148L78.3 145.9L77.5 144.6L76.2 144.2L75.3 144.2M83.5 144.2L82.2 144.6L81.8 145.5L81.8 146.3L82.2 147.1L83.1 147.6L84.8 148L86.1 148.4L86.9 149.2L87.4 150.1L87.4 151.3L86.9 152.2L86.5 152.6L85.2 153L83.5 153L82.2 152.6L81.8 152.2L81.3 151.3L81.3 150.1L81.8 149.2L82.6 148.4L83.9 148L85.6 147.6L86.5 147.1L86.9 146.3L86.9 145.5L86.5 144.6L85.2 144.2L83.5 144.2M95.1 144.2L90.8 144.2L90.4 148L90.8 147.6L92.1 147.1L93.4 147.1L94.7 147.6L95.5 148.4L96 149.7L96 150.5L95.5 151.8L94.7 152.6L93.4 153L92.1 153L90.8 152.6L90.4 152.2L89.9 151.3M101.1 144.2L99.8 144.6L99 145.9L98.5 148L98.5 149.2L99 151.3L99.8 152.6L101.1 153L102 153L103.3 152.6L104.1 151.3L104.6 149.2L104.6 148L104.1 145.9L103.3 144.6L102 144.2L101.1 144.2M114.4 147.1L114.4 153M114.4 148.8L115.7 147.6L116.6 147.1L117.9 147.1L118.7 147.6L119.2 148.8L119.2 153M119.2 148.8L120.5 147.6L121.3 147.1L122.6 147.1L123.5 147.6L123.9 148.8L123.9 153" stroke="#000000" stroke-width="1.0" fill="none" stroke-linecap="square"/>
<path d="M73.7 192.8L73.2 194.1L72.4 194.9L71.1 195.3L70.7 195.3L69.4 194.9L68.5 194.1L68.1 192.8L68.1 192.4L68.5 191.1L69.4 190.3L70.7 189.9L71.1 189.9L72.4 190.3L73.2 191.1L73.7 192.8L73.7 194.9L73.2 197L72.4 198.3L71.1 198.7L70.2 198.7L69 198.3L68.5 197.4M81.8 189.9L77.5 189.9L77.1 193.6L77.5 193.2L78.8 192.8L80.1 192.8L81.4 193.2L82.3 194.1L82.7 195.3L82.7 196.2L82.3 197.4L81.4 198.3L80.1 198.7L78.8 198.7L77.5 198.3L77.1 197.8L76.7 197M87.9 189.9L86.6 190.3L85.7 191.5L85.3 193.6L85.3 194.9L85.7 197L86.6 198.3L87.9 198.7L88.7 198.7L90 198.3L90.9 197L91.3 194.9L91.3 193.6L90.9 191.5L90 190.3L88.7 189.9L87.9 189.9M96.5 189.9L95.2 190.3L94.3 191.5L93.9 193.6L93.9 194.9L94.3 197L95.2 198.3L96.5 198.7L97.3 198.7L98.6 198.3L99.5 197L99.9 194.9L99.9 193.6L99.5 191.5L98.6 190.3L97.3 189.9L96.5 189.9M109.8 192.8L109.8 198.7M109.8 194.5L111.1 193.2L111.9 192.8L113.2 192.8L114.1 193.2L114.5 194.5L114.5 198.7M114.5 194.5L115.8 193.2L116.7 192.8L118 192.8L118.8 193.2L119.3 194.5L119.3 198.7" stroke="#000000" stroke-width="1.0" fill="none" stroke-linecap="square"/>
<path d="M70.2 229.4L69 229.8L68.5 230.7L68.5 231.5L69 232.3L69.8 232.8L71.5 233.2L72.8 233.6L73.7 234.4L74.1 235.3L74.1 236.5L73.7 237.4L73.2 237.8L72 238.2L70.2 238.2L69 237.8L68.5 237.4L68.1 236.5L68.1 235.3L68.5 234.4L69.4 233.6L70.7 233.2L72.4 232.8L73.2 232.3L73.7 231.5L73.7 230.7L73.2 229.8L72 229.4L70.2 229.4M77.5 229.4L82.3 229.4L79.7 232.8L81 232.8L81.8 233.2L82.3 233.6L82.7 234.9L82.7 235.7L82.3 237L81.4 237.8L80.1 238.2L78.8 238.2L77.5 237.8L77.1 237.4L76.7 236.5M90.9 232.3L90.4 233.6L89.6 234.4L88.3 234.9L87.9 234.9L86.6 234.4L85.7 233.6L85.3 232.3L85.3 231.9L85.7 230.7L86.6 229.8L87.9 229.4L88.3 229.4L89.6 229.8L90.4 230.7L90.9 232.3L90.9 234.4L90.4 236.5L89.6 237.8L88.3 238.2L87.4 238.2L86.1 237.8L85.7 237M96.5 229.4L95.2 229.8L94.3 231.1L93.9 233.2L93.9 234.4L94.3 236.5L95.2 237.8L96.5 238.2L97.3 238.2L98.6 237.8L99.5 236.5L99.9 234.4L99.9 233.2L99.5 231.1L98.6 229.8L97.3 229.4L96.5 229.4M109.8 232.3L109.8 238.2M109.8 234L111.1 232.8L111.9 232.3L113.2 232.3L114.1 232.8L114.5 234L114.5 238.2M114.5 234L115.8 232.8L116.7 232.3L118 232.3L118.8 232.8L119.3 234L119.3 238.2" stroke="#000000" stroke-width="1.0" fill="none" stroke-linecap="square"/>
<path d="M74.1 264.5L69.8 273.3M68.1 264.5L74.1 264.5M81 264.5L76.7 270.4L83.1 270.4M81 264.5L81 273.3M85.4 266.2L86.2 265.7L87.5 264.5L87.5 273.3M92.5 264.5L91.2 264.9L90.4 266.2L89.9 268.3L89.9 269.5L90.4 271.6L91.2 272.9L92.5 273.3L93.4 273.3L94.7 272.9L95.5 271.6L96 269.5L96 268.3L95.5 266.2L94.7 264.9L93.4 264.5L92.5 264.5M105.8 267.4L105.8 273.3M105.8 269.1L107.1 267.8L108 267.4L109.3 267.4L110.1 267.8L110.6 269.1L110.6 273.3M110.6 269.1L111.9 267.8L112.7 267.4L114 267.4L114.9 267.8L115.3 269.1L115.3 273.3" stroke="#000000" stroke-width="1.0" fill="none" stroke-linecap="square"/>
<path d="M73.7 297.4L73.2 296.6L72 296.1L71.1 296.1L69.8 296.6L69 297.8L68.5 299.9L68.5 302L69 303.7L69.8 304.5L71.1 305L71.5 305L72.8 304.5L73.7 303.7L74.1 302.4L74.1 302L73.7 300.8L72.8 299.9L71.5 299.5L71.1 299.5L69.8 299.9L69 300.8L68.5 302M81.8 296.1L77.5 296.1L77.1 299.9L77.5 299.5L78.8 299.1L80.1 299.1L81.4 299.5L82.3 300.3L82.7 301.6L82.7 302.4L82.3 303.7L81.4 304.5L80.1 305L78.8 305L77.5 304.5L77.1 304.1L76.7 303.3M89.6 296.1L85.3 302L91.7 302M89.6 296.1L89.6 305M96.5 296.1L95.2 296.6L94.3 297.8L93.9 299.9L93.9 301.2L94.3 303.3L95.2 304.5L96.5 305L97.3 305L98.6 304.5L99.5 303.3L99.9 301.2L99.9 299.9L99.5 297.8L98.6 296.6L97.3 296.1L96.5 296.1M109.8 299.1L109.8 305M109.8 300.8L111.1 299.5L111.9 299.1L113.2 299.1L114.1 299.5L114.5 300.8L114.5 305M114.5 300.8L115.8 299.5L116.7 299.1L118 299.1L118.8 299.5L119.3 300.8L119.3 305" stroke="#000000" stroke-width="1.0" fill="none" stroke-linecap="square"/>
<path d="M73.2 325.1L69 325.1L68.5 328.9L69 328.4L70.2 328L71.5 328L72.8 328.4L73.7 329.3L74.1 330.5L74.1 331.4L73.7 332.6L72.8 333.5L71.5 333.9L70.2 333.9L69 333.5L68.5 333.1L68.1 332.2M82.7 325.1L78.4 333.9M76.7 325.1L82.7 325.1M90.4 325.1L86.1 325.1L85.7 328.9L86.1 328.4L87.4 328L88.7 328L90 328.4L90.9 329.3L91.3 330.5L91.3 331.4L90.9 332.6L90 333.5L88.7 333.9L87.4 333.9L86.1 333.5L85.7 333.1L85.3 332.2M94 326.8L94.8 326.3L96.1 325.1L96.1 333.9M105.8 328L105.8 333.9M105.8 329.7L107.1 328.4L108 328L109.3 328L110.1 328.4L110.6 329.7L110.6 333.9M110.6 329.7L111.9 328.4L112.7 328L114 328L114.9 328.4L115.3 329.7L115.3 333.9" stroke="#000000" stroke-width="1.0" fill="none" stroke-linecap="square"/>
<path d="M73.2 351.8L69 351.8L68.5 355.6L69 355.2L70.2 354.8L71.5 354.8L72.8 355.2L73.7 356L74.1 357.3L74.1 358.1L73.7 359.4L72.8 360.2L71.5 360.6L70.2 360.6L69 360.2L68.5 359.8L68.1 359M79.3 351.8L78 352.2L77.1 353.5L76.7 355.6L76.7 356.9L77.1 359L78 360.2L79.3 360.6L80.1 360.6L81.4 360.2L82.3 359L82.7 356.9L82.7 355.6L82.3 353.5L81.4 352.2L80.1 351.8L79.3 351.8M86.1 351.8L90.9 351.8L88.3 355.2L89.6 355.2L90.4 355.6L90.9 356L91.3 357.3L91.3 358.1L90.9 359.4L90 360.2L88.7 360.6L87.4 360.6L86.1 360.2L85.7 359.8L85.3 359M96.5 351.8L95.2 352.2L94.3 353.5L93.9 355.6L93.9 356.9L94.3 359L95.2 360.2L96.5 360.6L97.3 360.6L98.6 360.2L99.5 359L99.9 356.9L99.9 355.6L99.5 353.5L98.6 352.2L97.3 351.8L96.5 351.8M109.8 354.8L109.8 360.6M109.8 356.4L111.1 355.2L111.9 354.8L113.2 354.8L114.1 355.2L114.5 356.4L114.5 360.6M114.5 356.4L115.8 355.2L116.7 354.8L118 354.8L118.8 355.2L119.3 356.4L119.3 360.6" stroke="#000000" stroke-width="1.0" fill="none" stroke-linecap="square"/>
<path d="M72.4 376.7L68.1 382.6L74.5 382.6M72.4 376.7L72.4 385.5M77.5 376.7L82.3 376.7L79.7 380.1L81 380.1L81.8 380.5L82.3 380.9L82.7 382.2L82.7 383L82.3 384.3L81.4 385.1L80.1 385.5L78.8 385.5L77.5 385.1L77.1 384.7L76.7 383.8M90.4 376.7L86.1 376.7L85.7 380.5L86.1 380.1L87.4 379.6L88.7 379.6L90 380.1L90.9 380.9L91.3 382.2L91.3 383L90.9 384.3L90 385.1L88.7 385.5L87.4 385.5L86.1 385.1L85.7 384.7L85.3 383.8M96 376.7L94.7 377.1L94.3 378L94.3 378.8L94.7 379.6L95.6 380.1L97.3 380.5L98.6 380.9L99.5 381.7L99.9 382.6L99.9 383.8L99.5 384.7L99 385.1L97.8 385.5L96 385.5L94.7 385.1L94.3 384.7L93.9 383.8L93.9 382.6L94.3 381.7L95.2 380.9L96.5 380.5L98.2 380.1L99 379.6L99.5 378.8L99.5 378L99 377.1L97.8 376.7L96 376.7M109.8 379.6L109.8 385.5M109.8 381.3L111.1 380.1L111.9 379.6L113.2 379.6L114.1 380.1L114.5 381.3L114.5 385.5M114.5 381.3L115.8 380.1L116.7 379.6L118 379.6L118.8 380.1L119.3 381.3L119.3 385.5" stroke="#000000" stroke-width="1.0" fill="none" stroke-linecap="square"/>
<path d="M69 400L73.7 400L71.1 403.4L72.4 403.4L73.2 403.8L73.7 404.2L74.1 405.5L74.1 406.3L73.7 407.6L72.8 408.4L71.5 408.8L70.2 408.8L69 408.4L68.5 408L68.1 407.2M82.7 400L78.4 408.8M76.7 400L82.7 400M86.1 400L90.9 400L88.3 403.4L89.6 403.4L90.4 403.8L90.9 404.2L91.3 405.5L91.3 406.3L90.9 407.6L90 408.4L88.7 408.8L87.4 408.8L86.1 408.4L85.7 408L85.3 407.2M96.5 400L95.2 400.4L94.3 401.7L93.9 403.8L93.9 405.1L94.3 407.2L95.2 408.4L96.5 408.8L97.3 408.8L98.6 408.4L99.5 407.2L99.9 405.1L99.9 403.8L99.5 401.7L98.6 400.4L97.3 400L96.5 400M109.8 403L109.8 408.8M109.8 404.6L111.1 403.4L111.9 403L113.2 403L114.1 403.4L114.5 404.6L114.5 408.8M114.5 404.6L115.8 403.4L116.7 403L118 403L118.8 403.4L119.3 404.6L119.3 408.8" stroke="#000000" stroke-width="1.0" fill="none" stroke-linecap="square"/>
<path d="M69 422L73.7 422L71.1 425.4L72.4 425.4L73.2 425.8L73.7 426.2L74.1 427.5L74.1 428.3L73.7 429.6L72.8 430.4L71.5 430.8L70.2 430.8L69 430.4L68.5 430L68.1 429.1M76.8 423.7L77.6 423.3L78.9 422L78.9 430.8M85.6 422L81.3 427.9L87.8 427.9M85.6 422L85.6 430.8M90.4 424.1L90.4 423.7L90.8 422.8L91.2 422.4L92.1 422L93.8 422L94.7 422.4L95.1 422.8L95.5 423.7L95.5 424.5L95.1 425.4L94.2 426.6L89.9 430.8L96 430.8M105.8 424.9L105.8 430.8M105.8 426.6L107.1 425.4L108 424.9L109.3 424.9L110.1 425.4L110.6 426.6L110.6 430.8M110.6 426.6L111.9 425.4L112.7 424.9L114 424.9L114.9 425.4L115.3 426.6L115.3 430.8" stroke="#000000" stroke-width="1.0" fill="none" stroke-linecap="square"/>
<path d="M68.5 444.9L68.5 444.5L69 443.6L69.4 443.2L70.2 442.8L72 442.8L72.8 443.2L73.2 443.6L73.7 444.5L73.7 445.3L73.2 446.1L72.4 447.4L68.1 451.6L74.1 451.6M81.8 442.8L77.5 442.8L77.1 446.6L77.5 446.1L78.8 445.7L80.1 445.7L81.4 446.1L82.3 447L82.7 448.2L82.7 449.1L82.3 450.3L81.4 451.2L80.1 451.6L78.8 451.6L77.5 451.2L77.1 450.8L76.7 449.9M87.4 442.8L86.1 443.2L85.7 444L85.7 444.9L86.1 445.7L87 446.1L88.7 446.6L90 447L90.9 447.8L91.3 448.7L91.3 449.9L90.9 450.8L90.4 451.2L89.2 451.6L87.4 451.6L86.1 451.2L85.7 450.8L85.3 449.9L85.3 448.7L85.7 447.8L86.6 447L87.9 446.6L89.6 446.1L90.4 445.7L90.9 444.9L90.9 444L90.4 443.2L89.2 442.8L87.4 442.8M99.5 445.7L99 447L98.2 447.8L96.9 448.2L96.5 448.2L95.2 447.8L94.3 447L93.9 445.7L93.9 445.3L94.3 444L95.2 443.2L96.5 442.8L96.9 442.8L98.2 443.2L99 444L99.5 445.7L99.5 447.8L99 449.9L98.2 451.2L96.9 451.6L96 451.6L94.7 451.2L94.3 450.3M109.8 445.7L109.8 451.6M109.8 447.4L111.1 446.1L111.9 445.7L113.2 445.7L114.1 446.1L114.5 447.4L114.5 451.6M114.5 447.4L115.8 446.1L116.7 445.7L118 445.7L118.8 446.1L119.3 447.4L119.3 451.6" stroke="#000000" stroke-width="1.0" fill="none" stroke-linecap="square"/>
<path d="M68.5 464.6L68.5 464.2L69 463.4L69.4 463L70.2 462.5L72 462.5L72.8 463L73.2 463.4L73.7 464.2L73.7 465.1L73.2 465.9L72.4 467.2L68.1 471.4L74.1 471.4M79.3 462.5L78 463L77.1 464.2L76.7 466.3L76.7 467.6L77.1 469.7L78 470.9L79.3 471.4L80.1 471.4L81.4 470.9L82.3 469.7L82.7 467.6L82.7 466.3L82.3 464.2L81.4 463L80.1 462.5L79.3 462.5M90.9 463.8L90.4 463L89.2 462.5L88.3 462.5L87 463L86.1 464.2L85.7 466.3L85.7 468.4L86.1 470.1L87 470.9L88.3 471.4L88.7 471.4L90 470.9L90.9 470.1L91.3 468.8L91.3 468.4L90.9 467.2L90 466.3L88.7 465.9L88.3 465.9L87 466.3L86.1 467.2L85.7 468.4M99.5 463.8L99 463L97.8 462.5L96.9 462.5L95.6 463L94.7 464.2L94.3 466.3L94.3 468.4L94.7 470.1L95.6 470.9L96.9 471.4L97.3 471.4L98.6 470.9L99.5 470.1L99.9 468.8L99.9 468.4L99.5 467.2L98.6 466.3L97.3 465.9L96.9 465.9L95.6 466.3L94.7 467.2L94.3 468.4M109.8 465.5L109.8 471.4M109.8 467.2L111.1 465.9L111.9 465.5L113.2 465.5L114.1 465.9L114.5 467.2L114.5 471.4M114.5 467.2L115.8 465.9L116.7 465.5L118 465.5L118.8 465.9L119.3 467.2L119.3 471.4" stroke="#000000" stroke-width="1.0" fill="none" stroke-linecap="square"/>
<path d="M68.2 483.1L69 482.6L70.3 481.4L70.3 490.2M77.9 481.4L73.6 481.4L73.2 485.2L73.6 484.7L74.9 484.3L76.2 484.3L77.5 484.7L78.3 485.6L78.8 486.8L78.8 487.7L78.3 488.9L77.5 489.8L76.2 490.2L74.9 490.2L73.6 489.8L73.2 489.4L72.7 488.5M87.4 481.4L83.1 490.2M81.3 481.4L87.4 481.4M90.4 483.5L90.4 483.1L90.8 482.2L91.2 481.8L92.1 481.4L93.8 481.4L94.7 481.8L95.1 482.2L95.5 483.1L95.5 483.9L95.1 484.7L94.2 486L89.9 490.2L96 490.2M105.8 484.3L105.8 490.2M105.8 486L107.1 484.7L108 484.3L109.3 484.3L110.1 484.7L110.6 486L110.6 490.2M110.6 486L111.9 484.7L112.7 484.3L114 484.3L114.9 484.7L115.3 486L115.3 490.2" stroke="#000000" stroke-width="1.0" fill="none" stroke-linecap="square"/>
<path d="M68.2 501.1L69 500.7L70.3 499.4L70.3 508.2M72.8 501.1L73.7 500.7L75 499.4L75 508.2M80 499.4L78.7 499.8L77.8 501.1L77.4 503.2L77.4 504.4L77.8 506.5L78.7 507.8L80 508.2L80.8 508.2L82.1 507.8L83 506.5L83.4 504.4L83.4 503.2L83 501.1L82.1 499.8L80.8 499.4L80 499.4M86.4 501.5L86.4 501.1L86.8 500.2L87.3 499.8L88.1 499.4L89.8 499.4L90.7 499.8L91.1 500.2L91.6 501.1L91.6 501.9L91.1 502.8L90.3 504L86 508.2L92 508.2M101.9 502.3L101.9 508.2M101.9 504L103.2 502.8L104 502.3L105.3 502.3L106.2 502.8L106.6 504L106.6 508.2M106.6 504L107.9 502.8L108.8 502.3L110.1 502.3L110.9 502.8L111.3 504L111.3 508.2" stroke="#000000" stroke-width="1.0" fill="none" stroke-linecap="square"/>
<path d="M73.7 517.9L73.2 517.1L72 516.7L71.1 516.7L69.8 517.1L69 518.4L68.5 520.5L68.5 522.6L69 524.2L69.8 525.1L71.1 525.5L71.5 525.5L72.8 525.1L73.7 524.2L74.1 523L74.1 522.6L73.7 521.3L72.8 520.5L71.5 520L71.1 520L69.8 520.5L69 521.3L68.5 522.6M81.8 516.7L77.5 516.7L77.1 520.5L77.5 520L78.8 519.6L80.1 519.6L81.4 520L82.3 520.9L82.7 522.1L82.7 523L82.3 524.2L81.4 525.1L80.1 525.5L78.8 525.5L77.5 525.1L77.1 524.7L76.7 523.8M89.6 516.7L85.3 522.6L91.7 522.6M89.6 516.7L89.6 525.5M101.2 519.6L101.2 525.5M101.2 521.3L102.5 520L103.3 519.6L104.6 519.6L105.5 520L105.9 521.3L105.9 525.5M105.9 521.3L107.2 520L108.1 519.6L109.4 519.6L110.2 520L110.7 521.3L110.7 525.5" stroke="#000000" stroke-width="1.0" fill="none" stroke-linecap="square"/>
<path d="M68.5 535.4L68.5 535L69 534.1L69.4 533.7L70.2 533.3L72 533.3L72.8 533.7L73.2 534.1L73.7 535L73.7 535.8L73.2 536.6L72.4 537.9L68.1 542.1L74.1 542.1M77.5 533.3L82.3 533.3L79.7 536.6L81 536.6L81.8 537.1L82.3 537.5L82.7 538.7L82.7 539.6L82.3 540.8L81.4 541.7L80.1 542.1L78.8 542.1L77.5 541.7L77.1 541.3L76.7 540.4M91.3 533.3L87 542.1M85.3 533.3L91.3 533.3M101.2 536.2L101.2 542.1M101.2 537.9L102.5 536.6L103.3 536.2L104.6 536.2L105.5 536.6L105.9 537.9L105.9 542.1M105.9 537.9L107.2 536.6L108.1 536.2L109.4 536.2L110.2 536.6L110.7 537.9L110.7 542.1" stroke="#000000" stroke-width="1.0" fill="none" stroke-linecap="square"/>
<path d="M68.5 554.3L76.3 554.3M78.5 551L79.4 550.5L80.6 549.3L80.6 558.1M85.2 549.3L83.9 549.7L83.5 550.5L83.5 551.4L83.9 552.2L84.8 552.6L86.5 553.1L87.8 553.5L88.6 554.3L89.1 555.2L89.1 556.4L88.6 557.3L88.2 557.7L86.9 558.1L85.2 558.1L83.9 557.7L83.5 557.3L83.1 556.4L83.1 555.2L83.5 554.3L84.3 553.5L85.6 553.1L87.4 552.6L88.2 552.2L88.6 551.4L88.6 550.5L88.2 549.7L86.9 549.3L85.2 549.3M92.1 551.4L92.1 551L92.5 550.1L92.9 549.7L93.8 549.3L95.5 549.3L96.4 549.7L96.8 550.1L97.2 551L97.2 551.8L96.8 552.6L96 553.9L91.7 558.1L97.7 558.1M107.6 552.2L107.6 558.1M107.6 553.9L108.9 552.6L109.7 552.2L111 552.2L111.9 552.6L112.3 553.9L112.3 558.1M112.3 553.9L113.6 552.6L114.4 552.2L115.7 552.2L116.6 552.6L117 553.9L117 558.1" stroke="#000000" stroke-width="1.0" fill="none" stroke-linecap="square"/>
<path d="M34.7 576.3L34.7 584M34.7 578.5L36 576.8L36.9 576.3L38.2 576.3L39 576.8L39.5 578.5L39.5 584M39.5 578.5L40.7 576.8L41.6 576.3L42.9 576.3L43.8 576.8L44.2 578.5L44.2 584M47.2 572.4L47.2 584M47.2 577.9L48 576.8L48.9 576.3L50.2 576.3L51.1 576.8L51.9 577.9L52.4 579.6L52.4 580.7L51.9 582.3L51.1 583.4L50.2 584L48.9 584L48 583.4L47.2 582.3" stroke="#0000B4" stroke-width="1.0" fill="none" stroke-linecap="square"/>
<path d="M44.8 578.4L54.9 578.4M60.5 571.5L58.8 572.1L58.2 573.2L58.2 574.4L58.8 575.5L59.9 576.1L62.2 576.6L63.9 577.2L65 578.4L65.6 579.5L65.6 581.2L65 582.3L64.4 582.9L62.8 583.5L60.5 583.5L58.8 582.9L58.2 582.3L57.7 581.2L57.7 579.5L58.2 578.4L59.4 577.2L61.1 576.6L63.3 576.1L64.4 575.5L65 574.4L65 573.2L64.4 572.1L62.8 571.5L60.5 571.5M72.3 571.5L70.6 572.1L69.5 573.8L68.9 576.6L68.9 578.4L69.5 581.2L70.6 582.9L72.3 583.5L73.4 583.5L75.1 582.9L76.2 581.2L76.8 578.4L76.8 576.6L76.2 573.8L75.1 572.1L73.4 571.5L72.3 571.5" stroke="#0000B4" stroke-width="1.0" fill="none" stroke-linecap="square"/>
<path d="M94.8 578.4L104.9 578.4M115.6 571.5L109.9 583.5M107.7 571.5L115.6 571.5M122.3 571.5L120.6 572.1L119.5 573.8L118.9 576.6L118.9 578.4L119.5 581.2L120.6 582.9L122.3 583.5L123.4 583.5L125.1 582.9L126.2 581.2L126.8 578.4L126.8 576.6L126.2 573.8L125.1 572.1L123.4 571.5L122.3 571.5" stroke="#0000B4" stroke-width="1.0" fill="none" stroke-linecap="square"/>
<path d="M144.8 578.4L154.9 578.4M165 573.2L164.4 572.1L162.8 571.5L161.6 571.5L159.9 572.1L158.8 573.8L158.2 576.6L158.2 579.5L158.8 581.8L159.9 582.9L161.6 583.5L162.2 583.5L163.9 582.9L165 581.8L165.6 580.1L165.6 579.5L165 577.8L163.9 576.6L162.2 576.1L161.6 576.1L159.9 576.6L158.8 577.8L158.2 579.5M172.3 571.5L170.6 572.1L169.5 573.8L168.9 576.6L168.9 578.4L169.5 581.2L170.6 582.9L172.3 583.5L173.4 583.5L175.1 582.9L176.2 581.2L176.8 578.4L176.8 576.6L176.2 573.8L175.1 572.1L173.4 571.5L172.3 571.5" stroke="#0000B4" stroke-width="1.0" fill="none" stroke-linecap="square"/>
<path d="M194.8 578.4L204.9 578.4M214.4 571.5L208.8 571.5L208.2 576.6L208.8 576.1L210.5 575.5L212.2 575.5L213.9 576.1L215 577.2L215.6 578.9L215.6 580.1L215 581.8L213.9 582.9L212.2 583.5L210.5 583.5L208.8 582.9L208.2 582.3L207.7 581.2M222.3 571.5L220.6 572.1L219.5 573.8L218.9 576.6L218.9 578.4L219.5 581.2L220.6 582.9L222.3 583.5L223.4 583.5L225.1 582.9L226.2 581.2L226.8 578.4L226.8 576.6L226.2 573.8L225.1 572.1L223.4 571.5L222.3 571.5" stroke="#0000B4" stroke-width="1.0" fill="none" stroke-linecap="square"/>
<path d="M244.8 578.4L254.9 578.4M263.3 571.5L257.7 579.5L266.1 579.5M263.3 571.5L263.3 583.5M272.3 571.5L270.6 572.1L269.5 573.8L268.9 576.6L268.9 578.4L269.5 581.2L270.6 582.9L272.3 583.5L273.4 583.5L275.1 582.9L276.2 581.2L276.8 578.4L276.8 576.6L276.2 573.8L275.1 572.1L273.4 571.5L272.3 571.5" stroke="#0000B4" stroke-width="1.0" fill="none" stroke-linecap="square"/>
<path d="M294.8 578.4L304.9 578.4M308.8 571.5L315 571.5L311.6 576.1L313.3 576.1L314.4 576.6L315 577.2L315.6 578.9L315.6 580.1L315 581.8L313.9 582.9L312.2 583.5L310.5 583.5L308.8 582.9L308.2 582.3L307.7 581.2M322.3 571.5L320.6 572.1L319.5 573.8L318.9 576.6L318.9 578.4L319.5 581.2L320.6 582.9L322.3 583.5L323.4 583.5L325.1 582.9L326.2 581.2L326.8 578.4L326.8 576.6L326.2 573.8L325.1 572.1L323.4 571.5L322.3 571.5" stroke="#0000B4" stroke-width="1.0" fill="none" stroke-linecap="square"/>
<path d="M344.8 578.4L354.9 578.4M358.2 574.4L358.2 573.8L358.8 572.7L359.4 572.1L360.5 571.5L362.8 571.5L363.9 572.1L364.4 572.7L365 573.8L365 574.9L364.4 576.1L363.3 577.8L357.7 583.5L365.6 583.5M372.3 571.5L370.6 572.1L369.5 573.8L368.9 576.6L368.9 578.4L369.5 581.2L370.6 582.9L372.3 583.5L373.4 583.5L375.1 582.9L376.2 581.2L376.8 578.4L376.8 576.6L376.2 573.8L375.1 572.1L373.4 571.5L372.3 571.5" stroke="#0000B4" stroke-width="1.0" fill="none" stroke-linecap="square"/>
<path d="M397.3 578.4L407.5 578.4M410.4 573.8L411.5 573.2L413.2 571.5L413.2 583.5M419.7 571.5L418 572.1L416.9 573.8L416.3 576.6L416.3 578.4L416.9 581.2L418 582.9L419.7 583.5L420.8 583.5L422.5 582.9L423.7 581.2L424.2 578.4L424.2 576.6L423.7 573.8L422.5 572.1L420.8 571.5L419.7 571.5" stroke="#0000B4" stroke-width="1.0" fill="none" stroke-linecap="square"/>
<path d="M467.4 571.5L465.8 572.1L464.6 573.8L464.1 576.6L464.1 578.4L464.6 581.2L465.8 582.9L467.4 583.5L468.6 583.5L470.2 582.9L471.4 581.2L471.9 578.4L471.9 576.6L471.4 573.8L470.2 572.1L468.6 571.5L467.4 571.5" stroke="#0000B4" stroke-width="1.0" fill="none" stroke-linecap="square"/>
<path d="M508.1 573.8L509.3 573.2L510.9 571.5L510.9 583.5M517.5 571.5L515.8 572.1L514.7 573.8L514.1 576.6L514.1 578.4L514.7 581.2L515.8 582.9L517.5 583.5L518.6 583.5L520.3 582.9L521.4 581.2L522 578.4L522 576.6L521.4 573.8L520.3 572.1L518.6 571.5L517.5 571.5" stroke="#0000B4" stroke-width="1.0" fill="none" stroke-linecap="square"/>
<path d="M556 574.4L556 573.8L556.6 572.7L557.1 572.1L558.2 571.5L560.5 571.5L561.6 572.1L562.2 572.7L562.8 573.8L562.8 574.9L562.2 576.1L561.1 577.8L555.4 583.5L563.3 583.5M570.1 571.5L568.4 572.1L567.2 573.8L566.7 576.6L566.7 578.4L567.2 581.2L568.4 582.9L570.1 583.5L571.2 583.5L572.9 582.9L574 581.2L574.6 578.4L574.6 576.6L574 573.8L572.9 572.1L571.2 571.5L570.1 571.5" stroke="#0000B4" stroke-width="1.0" fill="none" stroke-linecap="square"/>
<path d="M606.6 571.5L612.8 571.5L609.4 576.1L611.1 576.1L612.2 576.6L612.8 577.2L613.3 578.9L613.3 580.1L612.8 581.8L611.6 582.9L609.9 583.5L608.2 583.5L606.6 582.9L606 582.3L605.4 581.2M620.1 571.5L618.4 572.1L617.2 573.8L616.7 576.6L616.7 578.4L617.2 581.2L618.4 582.9L620.1 583.5L621.2 583.5L622.9 582.9L624 581.2L624.6 578.4L624.6 576.6L624 573.8L622.9 572.1L621.2 571.5L620.1 571.5" stroke="#0000B4" stroke-width="1.0" fill="none" stroke-linecap="square"/>
<path d="M664.2 574.4L663.7 573.2L662.5 572.1L661.4 571.5L659.2 571.5L658 572.1L656.9 573.2L656.3 574.4L655.8 576.1L655.8 578.9L656.3 580.6L656.9 581.8L658 582.9L659.2 583.5L661.4 583.5L662.5 582.9L663.7 581.8L664.2 580.6" stroke="#0000B4" stroke-width="1.0" fill="none" stroke-linecap="square"/>
<path d="M248.7 583.5L247.1 584.1L246.1 585.8L245.5 588.6L245.5 590.4L246.1 593.2L247.1 594.9L248.7 595.5L249.8 595.5L251.4 594.9L252.4 593.2L253 590.4L253 588.6L252.4 585.8L251.4 584.1L249.8 583.5L248.7 583.5M257.2 594.3L256.7 594.9L257.2 595.5L257.7 594.9L257.2 594.3M261.5 585.8L262.6 585.2L264.2 583.5L264.2 595.5" stroke="#564800" stroke-width="1.0" fill="none" stroke-linecap="square"/>
<path d="M280.4 583.5L278.8 584.1L277.7 585.8L277.2 588.6L277.2 590.4L277.7 593.2L278.8 594.9L280.4 595.5L281.4 595.5L283 594.9L284.1 593.2L284.6 590.4L284.6 588.6L284.1 585.8L283 584.1L281.4 583.5L280.4 583.5M288.8 594.3L288.3 594.9L288.8 595.5L289.4 594.9L288.8 594.3M293.6 586.4L293.6 585.8L294.1 584.7L294.7 584.1L295.7 583.5L297.9 583.5L298.9 584.1L299.4 584.7L300 585.8L300 586.9L299.4 588.1L298.4 589.8L293.1 595.5L300.5 595.5" stroke="#564800" stroke-width="1.0" fill="none" stroke-linecap="square"/>
<path d="M339.3 583.5L337.7 584.1L336.7 585.8L336.2 588.6L336.2 590.4L336.7 593.2L337.7 594.9L339.3 595.5L340.4 595.5L342 594.9L343 593.2L343.6 590.4L343.6 588.6L343 585.8L342 584.1L340.4 583.5L339.3 583.5M347.8 594.3L347.3 594.9L347.8 595.5L348.3 594.9L347.8 594.3M358.9 585.2L358.4 584.1L356.8 583.5L355.8 583.5L354.2 584.1L353.1 585.8L352.6 588.6L352.6 591.5L353.1 593.8L354.2 594.9L355.8 595.5L356.3 595.5L357.9 594.9L358.9 593.8L359.5 592.1L359.5 591.5L358.9 589.8L357.9 588.6L356.3 588.1L355.8 588.1L354.2 588.6L353.1 589.8L352.6 591.5" stroke="#564800" stroke-width="1.0" fill="none" stroke-linecap="square"/>
<path d="M368.4 585.8L369.5 585.2L371.1 583.5L371.1 595.5M375.1 594.3L374.6 594.9L375.1 595.5L375.6 594.9L375.1 594.3M382.5 583.5L380.9 584.1L379.9 585.8L379.3 588.6L379.3 590.4L379.9 593.2L380.9 594.9L382.5 595.5L383.6 595.5L385.2 594.9L386.2 593.2L386.8 590.4L386.8 588.6L386.2 585.8L385.2 584.1L383.6 583.5L382.5 583.5" stroke="#564800" stroke-width="1.0" fill="none" stroke-linecap="square"/>
<path d="M409.4 586.4L409.4 585.8L409.9 584.7L410.4 584.1L411.5 583.5L413.6 583.5L414.7 584.1L415.2 584.7L415.7 585.8L415.7 586.9L415.2 588.1L414.1 589.8L408.8 595.5L416.2 595.5M420.5 594.3L420 594.9L420.5 595.5L421 594.9L420.5 594.3M427.9 583.5L426.3 584.1L425.3 585.8L424.7 588.6L424.7 590.4L425.3 593.2L426.3 594.9L427.9 595.5L429 595.5L430.6 594.9L431.6 593.2L432.1 590.4L432.1 588.6L431.6 585.8L430.6 584.1L429 583.5L427.9 583.5" stroke="#564800" stroke-width="1.0" fill="none" stroke-linecap="square"/>
<path d="M436.5 583.5L442.3 583.5L439.1 588.1L440.7 588.1L441.8 588.6L442.3 589.2L442.9 590.9L442.9 592.1L442.3 593.8L441.3 594.9L439.7 595.5L438.1 595.5L436.5 594.9L436 594.3L435.4 593.2M447.1 594.3L446.6 594.9L447.1 595.5L447.6 594.9L447.1 594.3M454.5 583.5L452.9 584.1L451.9 585.8L451.3 588.6L451.3 590.4L451.9 593.2L452.9 594.9L454.5 595.5L455.6 595.5L457.2 594.9L458.2 593.2L458.8 590.4L458.8 588.6L458.2 585.8L457.2 584.1L455.6 583.5L454.5 583.5" stroke="#564800" stroke-width="1.0" fill="none" stroke-linecap="square"/>
<path d="M477 583.5L471.7 583.5L471.2 588.6L471.7 588.1L473.3 587.5L474.9 587.5L476.5 588.1L477.5 589.2L478.1 590.9L478.1 592.1L477.5 593.8L476.5 594.9L474.9 595.5L473.3 595.5L471.7 594.9L471.2 594.3L470.7 593.2M482.3 594.3L481.8 594.9L482.3 595.5L482.8 594.9L482.3 594.3M489.7 583.5L488.1 584.1L487.1 585.8L486.6 588.6L486.6 590.4L487.1 593.2L488.1 594.9L489.7 595.5L490.8 595.5L492.4 594.9L493.4 593.2L494 590.4L494 588.6L493.4 585.8L492.4 584.1L490.8 583.5L489.7 583.5" stroke="#564800" stroke-width="1.0" fill="none" stroke-linecap="square"/>
<path d="M518.8 585.8L519.9 585.2L521.5 583.5L521.5 595.5M527.6 583.5L526 584.1L525 585.8L524.4 588.6L524.4 590.4L525 593.2L526 594.9L527.6 595.5L528.7 595.5L530.3 594.9L531.3 593.2L531.9 590.4L531.9 588.6L531.3 585.8L530.3 584.1L528.7 583.5L527.6 583.5M536.1 594.3L535.6 594.9L536.1 595.5L536.6 594.9L536.1 594.3M543.5 583.5L541.9 584.1L540.9 585.8L540.3 588.6L540.3 590.4L540.9 593.2L541.9 594.9L543.5 595.5L544.6 595.5L546.2 594.9L547.2 593.2L547.8 590.4L547.8 588.6L547.2 585.8L546.2 584.1L544.6 583.5L543.5 583.5" stroke="#564800" stroke-width="1.0" fill="none" stroke-linecap="square"/>
<path d="M571.5 586.4L571.5 585.8L572 584.7L572.5 584.1L573.6 583.5L575.7 583.5L576.8 584.1L577.3 584.7L577.8 585.8L577.8 586.9L577.3 588.1L576.2 589.8L570.9 595.5L578.3 595.5M584.7 583.5L583.1 584.1L582.1 585.8L581.5 588.6L581.5 590.4L582.1 593.2L583.1 594.9L584.7 595.5L585.8 595.5L587.4 594.9L588.4 593.2L588.9 590.4L588.9 588.6L588.4 585.8L587.4 584.1L585.8 583.5L584.7 583.5M593.2 594.3L592.7 594.9L593.2 595.5L593.7 594.9L593.2 594.3M600.6 583.5L599 584.1L598 585.8L597.4 588.6L597.4 590.4L598 593.2L599 594.9L600.6 595.5L601.7 595.5L603.3 594.9L604.3 593.2L604.8 590.4L604.8 588.6L604.3 585.8L603.3 584.1L601.7 583.5L600.6 583.5" stroke="#564800" stroke-width="1.0" fill="none" stroke-linecap="square"/>
<path d="M634.3 583.5L629 591.5L637 591.5M634.3 583.5L634.3 595.5M642.8 583.5L641.2 584.1L640.2 585.8L639.6 588.6L639.6 590.4L640.2 593.2L641.2 594.9L642.8 595.5L643.9 595.5L645.5 594.9L646.5 593.2L647 590.4L647 588.6L646.5 585.8L645.5 584.1L643.9 583.5L642.8 583.5M651.3 594.3L650.8 594.9L651.3 595.5L651.8 594.9L651.3 594.3M658.7 583.5L657.1 584.1L656.1 585.8L655.5 588.6L655.5 590.4L656.1 593.2L657.1 594.9L658.7 595.5L659.8 595.5L661.4 594.9L662.4 593.2L662.9 590.4L662.9 588.6L662.4 585.8L661.4 584.1L659.8 583.5L658.7 583.5" stroke="#564800" stroke-width="1.0" fill="none" stroke-linecap="square"/>
<path d="M647.2 587.5L647.2 596.6L646.6 598.3L646.1 598.9L645 599.5L643.4 599.5L642.3 598.9M647.2 589.2L646.1 588.1L645 587.5L643.4 587.5L642.3 588.1L641.2 589.2L640.7 590.9L640.7 592.1L641.2 593.8L642.3 594.9L643.4 595.5L645 595.5L646.1 594.9L647.2 593.8M660.3 581.2L650.5 599.5M663.5 583.5L663.5 595.5M669 587.5L663.5 593.2M665.7 590.9L669.5 595.5M678.8 587.5L678.8 596.6L678.3 598.3L677.7 598.9L676.6 599.5L675 599.5L673.9 598.9M678.8 589.2L677.7 588.1L676.6 587.5L675 587.5L673.9 588.1L672.8 589.2L672.3 590.9L672.3 592.1L672.8 593.8L673.9 594.9L675 595.5L676.6 595.5L677.7 594.9L678.8 593.8" stroke="#564800" stroke-width="1.0" fill="none" stroke-linecap="square"/>
</g>
<g shape-rendering="crispEdges">
<path d="M659.5 24.5L624.3 18.5M654 24.5H665M659.5 19V30" stroke="#000" stroke-width="1" fill="none"/><path d="M624.3 18.5L627.9 -2.4L628 19.1Z" stroke="#000" stroke-width="1" fill="#000"/>
<path d="M659.5 94.5L628.5 76M654 94.5H665M659.5 89V100M628.5 76L633.6 57.9M632.4 78.3L637.5 60.2M636.2 80.6L641.4 62.5M640.1 82.9L645.2 64.8M644 85.2L646.5 76.2" stroke="#000" stroke-width="1" fill="none"/>
<path d="M659.5 149.5L630.5 128.5M654 149.5H665M659.5 144V155M630.5 128.5L637.2 110.9M634.1 131.1L640.9 113.6M637.8 133.8L644.5 116.2M641.4 136.4L648.1 118.9M645.1 139.1L648.4 130.3" stroke="#000" stroke-width="1" fill="none"/>
<path d="M659.5 194.5L632.5 171.5M654 194.5H665M659.5 189V200M639 177L647 160M642.4 179.9L650.5 163" stroke="#000" stroke-width="1" fill="none"/><path d="M632.5 171.5L643.4 157.2L635.4 174Z" stroke="#000" stroke-width="1" fill="#000"/>
<path d="M659.5 234.5L634.5 208.5M654 234.5H665M659.5 229V240M640.4 214.6L650.1 198.5M643.5 217.9L653.2 201.8M646.6 221.1L656.3 205M649.7 224.4L654.6 216.3" stroke="#000" stroke-width="1" fill="none"/><path d="M634.5 208.5L646.7 195.3L637.1 211.2Z" stroke="#000" stroke-width="1" fill="#000"/>
<path d="M659.5 301.5L644.5 269M654 301.5H665M659.5 296V307M644.5 269L658.9 257M646.4 273.1L660.8 261.1M648.3 277.2L662.7 265.1M650.2 281.3L657.4 275.2" stroke="#000" stroke-width="1" fill="none"/>
<path d="M659.5 356.5L662.5 321.3M654 356.5H665M659.5 351V362M662.5 321.3L681 318M662.1 325.8L680.6 322.5" stroke="#000" stroke-width="1" fill="none"/>
<path d="M659.5 447.5L647.5 413.5M654 447.5H665M659.5 442V453M647.5 413.5L663 402.9M649 417.7L664.5 407.1M650.5 422L658.2 416.7" stroke="#000" stroke-width="1" fill="none"/>
<path d="M659.5 504.5L660 468.5M654 504.5H665M659.5 499V510M660 468.5L678.2 463.9M659.9 473L669.1 470.7" stroke="#000" stroke-width="1" fill="none"/>
<path d="M659.5 529.5L677 498.5M654 529.5H665M659.5 524V535M677 498.5L695.2 503.2M674.8 502.4L693 507.1M672.6 506.3L690.8 511" stroke="#000" stroke-width="1" fill="none"/>
<path d="M659.5 546.5L682 519M654 546.5H665M659.5 541V552M682 519L699.1 526.7M679.2 522.5L687.7 526.3" stroke="#000" stroke-width="1" fill="none"/>
</g>
<g font-family="'Liberation Serif', serif" font-weight="bold" font-size="12" fill="#0000A8" stroke="#0000A8" stroke-width="0.3">
<text x="65.5" y="20.8">89062 (89062) Sounding</text>
<text x="653" y="20.8" text-anchor="end">1100Z 20 OCT 25</text>
<text x="698.7" y="34.6">WMO:89062</text>
<text x="698.7" y="49.4">TP:249</text>
<text x="698.7" y="64.2">MW:296</text>
<text x="698.7" y="79">FRZ: BG</text>
<text x="698.7" y="93.8">WB0: BG</text>
<text x="698.7" y="108.6">PW:0.29</text>
<text x="698.7" y="123.4">RH:75.2</text>
<text x="698.7" y="138.2">MAXT:4.4</text>
<text x="698.7" y="153">TH:5212</text>
<text x="698.7" y="167.8">L57:7.8</text>
<text x="698.7" y="182.6">LCL:924</text>
<text x="698.7" y="197.4">LI:6.2</text>
<text x="698.7" y="212.2">SI:4.7</text>
<text x="698.7" y="227">TT:54</text>
<text x="698.7" y="241.8">KI:16</text>
<text x="698.7" y="256.6">SW:136</text>
<text x="698.7" y="271.4">EI:1.2</text>
<text x="698.7" y="286.2">-PARCEL-</text>
<text x="698.7" y="301">CAPE:15</text>
<text x="698.7" y="315.8">CINH:42819</text>
<text x="698.7" y="330.6">LCL:883</text>
<text x="698.7" y="345.4">CAP:6.2</text>
<text x="698.7" y="360.2">LFC:-1</text>
<text x="698.7" y="375">-WIND-</text>
<text x="698.7" y="389.8">STM:26/16</text>
<text x="698.7" y="404.6">HEL:-21</text>
<text x="698.7" y="419.4">SHR+:0.0</text>
<text x="698.7" y="434.2">SRDS:160</text>
<text x="698.7" y="449">EHI:0.0</text>
<text x="698.7" y="463.8">BRN:0.6</text>
<text x="698.7" y="478.6">BSHR:25</text>
</g>
</svg>
</body></html>
